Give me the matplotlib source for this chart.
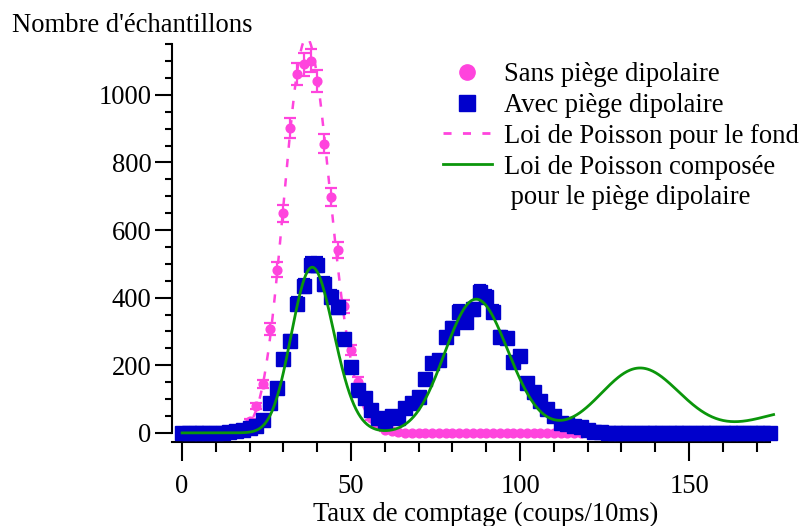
import math
import numpy as np
import matplotlib.pyplot as plt
from matplotlib.lines import Line2D
from matplotlib.ticker import MultipleLocator

plt.rcParams['font.family'] = ['Liberation Serif', 'DejaVu Serif']
plt.rcParams['lines.scale_dashes'] = False

# Sans piège dipolaire (fond) : histogramme, pas de 2 coups/10ms
x_fond = np.arange(0, 120, 2)
y_fond = np.array([0, 0, 0, 0, 0, 0, 1, 3, 7, 15,
                   34, 79, 145, 307, 483, 650, 901, 1061, 1090, 1101,
                   1040, 856, 699, 540, 375, 245, 152, 105, 45, 22,
                   10, 5, 2, 1, 0, 0, 0, 0, 0, 0,
                   0, 0, 0, 0, 0, 0, 0, 0, 0, 0,
                   0, 0, 0, 0, 0, 0, 0, 0, 0, 0])

# Avec piège dipolaire
x_piege = np.arange(0, 176, 2)
y_piege = np.array([0, 0, 0, 0, 0, 0, 1, 2, 5, 10,
                    14, 20, 38, 88, 132, 218, 273, 382, 435, 497,
                    497, 441, 403, 372, 277, 196, 127, 103, 68, 43,
                    33, 50, 43, 73, 88, 105, 159, 206, 216, 283,
                    310, 359, 329, 366, 418, 403, 359, 285, 280, 211,
                    226, 147, 122, 93, 70, 50, 29, 27, 21, 17,
                    9, 4, 2, 0, 0, 0, 0, 0, 0, 0,
                    0, 0, 0, 0, 0, 0, 0, 0, 0, 0,
                    0, 0, 0, 0, 0, 0, 0, 0])

# paramètres lus pour les ajustements
fond_lam, fond_pas, fond_amp = 30.7, 1.22, 16200     # loi de Poisson du fond
piege_fond, piege_pic, piege_nu, piege_amp = 39.0, 48.5, 1.21, 25700  # Poisson composée

pink = '#ff44dd'
blue = '#0000cc'
green = '#0b960b'
fs = 19.2

lgam = np.frompyfunc(math.lgamma, 1, 1)


def poisson(k, lam):
    k = np.asarray(k, dtype=float)
    return np.exp(k * np.log(lam) - lam - lgam(k + 1).astype(float))


xf = np.linspace(0, 175, 800)
fit_fond = fond_amp * poisson(xf / fond_pas, fond_lam)
fit_piege = np.zeros_like(xf)
for n in range(6):
    w = piege_amp * piege_nu ** n * math.exp(-piege_nu) / math.factorial(n)
    fit_piege += w * poisson(xf, piege_fond + n * piege_pic)

fig = plt.figure(figsize=(8.01, 5.26), dpi=100)
ax = fig.add_axes([0.2151, 0.1603, 0.7549, 0.7622])

ax.errorbar(x_fond, y_fond, yerr=np.sqrt(y_fond), fmt='o', ms=6.3, color=pink,
            ecolor=pink, elinewidth=1.6, capsize=4, capthick=1.6, zorder=2, clip_on=False)
ax.plot(xf, fit_fond, color=pink, lw=1.8, dashes=(6, 8), zorder=2.5)
ax.errorbar(x_piege, y_piege, yerr=np.sqrt(y_piege), fmt='s', ms=9.5, color=blue,
            ecolor=blue, elinewidth=1.6, capsize=4.5, capthick=1.6, zorder=3, clip_on=False)
ax.plot(xf, fit_piege, color=green, lw=2, zorder=4)

ax.set_xlim(-2.9, 176)
ax.set_ylim(-26, 1160)
ax.spines['top'].set_visible(False)
ax.spines['right'].set_visible(False)
ax.spines['left'].set_bounds(0, 1150)
ax.spines['bottom'].set_bounds(-2.9, 174)
for s in ('left', 'bottom'):
    ax.spines[s].set_linewidth(1.5)

ax.xaxis.set_major_locator(MultipleLocator(50))
ax.xaxis.set_minor_locator(MultipleLocator(10))
ax.yaxis.set_major_locator(MultipleLocator(200))
ax.yaxis.set_minor_locator(MultipleLocator(50))
ax.tick_params(axis='x', which='major', length=13.5, width=1.5, pad=10, labelsize=fs)
ax.tick_params(axis='x', which='minor', length=7, width=1.5)
ax.tick_params(axis='y', which='major', length=12, width=1.5, pad=3, labelsize=fs)
ax.tick_params(axis='y', which='minor', length=5, width=1.5)

fig.text(12 / 801, 1 - 32 / 526, "Nombre d'échantillons", fontsize=fs, ha='left', va='baseline')
fig.text(486 / 801, 1 - 521 / 526, "Taux de comptage (coups/10ms)", fontsize=fs,
         ha='center', va='baseline')

handles = [
    Line2D([], [], ls='none', marker='o', ms=11, color=pink),
    Line2D([], [], ls='none', marker='s', ms=11.5, color=blue),
    Line2D([], [], color=pink, lw=2, dashes=(5.8, 8.2)),
    Line2D([], [], color=green, lw=2),
    Line2D([], [], ls='none'),
]
labels = ['Sans piège dipolaire', 'Avec piège dipolaire', 'Loi de Poisson pour le fond',
          'Loi de Poisson composée', ' pour le piège dipolaire']
ax.legend(handles, labels, loc='upper left', bbox_to_anchor=(442.7 / 801, 1 - 62 / 526),
          bbox_transform=fig.transFigure, frameon=False, fontsize=fs, borderpad=0,
          borderaxespad=0, handlelength=1.85, handletextpad=0.45, labelspacing=0.22)

fig.savefig('out.png', dpi=100)
